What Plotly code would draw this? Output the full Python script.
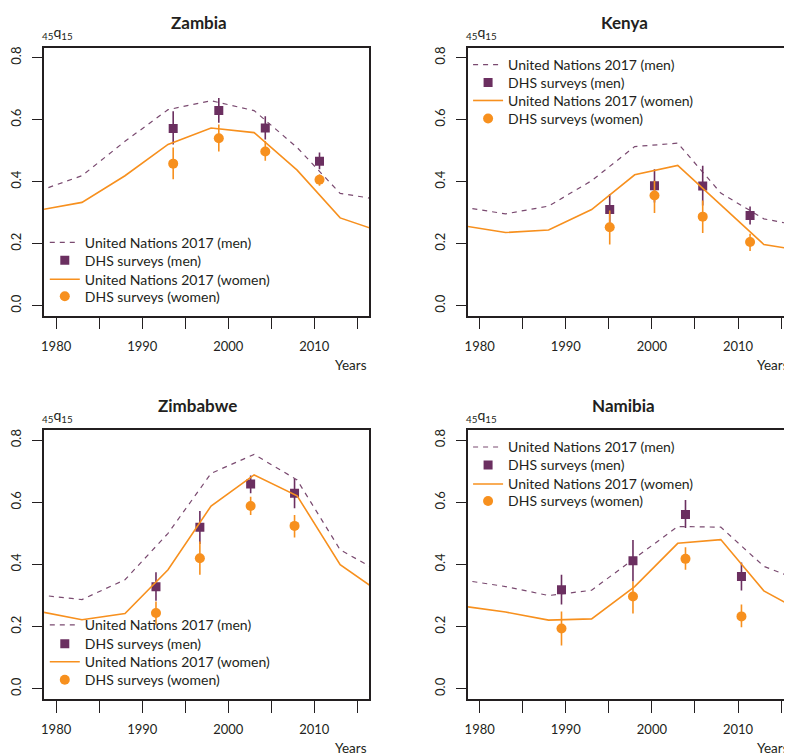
import plotly.graph_objects as go

# The page body has an 8px default margin; the figure is sized and placed so
# that the 792x756 viewport shows it exactly like the reference.
VIEW_W, VIEW_H = 792, 756
OFF = 8
W, H = VIEW_W - OFF, VIEW_H - OFF

# ---------------- data ----------------
un_years = [1978, 1983, 1988, 1993, 1998, 2003, 2008, 2013, 2018]

countries = ["Zambia", "Kenya", "Zimbabwe", "Namibia"]

un_men = {
    "Zambia":   [0.370, 0.419, 0.530, 0.632, 0.661, 0.629, 0.510, 0.362, 0.340],
    "Kenya":    [0.318, 0.296, 0.321, 0.403, 0.513, 0.524, 0.363, 0.280, 0.253],
    "Zimbabwe": [0.302, 0.287, 0.351, 0.500, 0.693, 0.754, 0.672, 0.447, 0.370],
    "Namibia":  [0.350, 0.329, 0.300, 0.317, 0.420, 0.522, 0.520, 0.394, 0.340],
}
un_women = {
    "Zambia":   [0.308, 0.333, 0.419, 0.520, 0.573, 0.558, 0.437, 0.283, 0.236],
    "Kenya":    [0.258, 0.236, 0.244, 0.310, 0.422, 0.452, 0.325, 0.197, 0.175],
    "Zimbabwe": [0.249, 0.222, 0.242, 0.383, 0.588, 0.688, 0.621, 0.399, 0.303],
    "Namibia":  [0.266, 0.247, 0.221, 0.225, 0.329, 0.468, 0.480, 0.315, 0.240],
}

dhs_years = {
    "Zambia":   [1993.6, 1998.9, 2004.3, 2010.6],
    "Kenya":    [1995.1, 2000.3, 2005.9, 2011.4],
    "Zimbabwe": [1991.6, 1996.7, 2002.6, 2007.7],
    "Namibia":  [1989.5, 1997.8, 2003.9, 2010.4],
}
dhs_men = {
    "Zambia":   [0.571, 0.629, 0.573, 0.466],
    "Kenya":    [0.310, 0.387, 0.386, 0.291],
    "Zimbabwe": [0.328, 0.520, 0.659, 0.629],
    "Namibia":  [0.319, 0.412, 0.561, 0.361],
}
dhs_men_lo = {
    "Zambia":   [0.520, 0.590, 0.536, 0.440],
    "Kenya":    [0.264, 0.333, 0.323, 0.262],
    "Zimbabwe": [0.283, 0.466, 0.629, 0.581],
    "Namibia":  [0.271, 0.345, 0.517, 0.316],
}
dhs_men_hi = {
    "Zambia":   [0.627, 0.670, 0.611, 0.494],
    "Kenya":    [0.360, 0.440, 0.451, 0.320],
    "Zimbabwe": [0.375, 0.572, 0.686, 0.675],
    "Namibia":  [0.367, 0.479, 0.607, 0.406],
}
dhs_women = {
    "Zambia":   [0.458, 0.540, 0.497, 0.406],
    "Kenya":    [0.253, 0.355, 0.287, 0.205],
    "Zimbabwe": [0.244, 0.420, 0.588, 0.524],
    "Namibia":  [0.194, 0.297, 0.418, 0.233],
}
dhs_women_lo = {
    "Zambia":   [0.408, 0.497, 0.467, 0.387],
    "Kenya":    [0.197, 0.299, 0.234, 0.176],
    "Zimbabwe": [0.206, 0.367, 0.559, 0.487],
    "Namibia":  [0.139, 0.242, 0.383, 0.198],
}
dhs_women_hi = {
    "Zambia":   [0.510, 0.584, 0.531, 0.424],
    "Kenya":    [0.307, 0.403, 0.339, 0.232],
    "Zimbabwe": [0.281, 0.474, 0.618, 0.559],
    "Namibia":  [0.249, 0.345, 0.455, 0.271],
}

x_tickvals = [1980, 1990, 2000, 2010]
x_ticktext = ["1980", "1990", "2000", "2010"]
x_minor_tickvals = [1985, 1995, 2005, 2015]
y_tickvals = [0.0, 0.2, 0.4, 0.6, 0.8]
y_ticktext = ["0.0", "0.2", "0.4", "0.6", "0.8"]

legend_labels = ["United Nations 2017 (men)", "DHS surveys (men)",
                 "United Nations 2017 (women)", "DHS surveys (women)"]

# ---------------- style ----------------
FONT = "Lato, Open Sans, sans-serif"
TXT = "#231f20"
PURPLE = "#6b2f60"
PURPLE_LINE = "#7a4a70"
ORANGE = "#f7901e"


def px(xp):
    return (xp - OFF) / W


def py(yp):
    return 1 - (yp - OFF) / H


# panel boxes in viewport pixels: (left, right, top, bottom)
boxes = {
    "Zambia":   (39.3, 366.7, 46.7, 315.0),
    "Kenya":    (466.0, 792.0, 46.7, 315.0),
    "Zimbabwe": (39.3, 366.7, 429.7, 698.7),
    "Namibia":  (466.0, 792.0, 429.7, 698.7),
}
xranges = {
    "Zambia": [1978.6, 2016.4], "Zimbabwe": [1978.6, 2016.4],
    "Kenya": [1978.65, 2016.27], "Namibia": [1978.65, 2016.27],
}
legend_left = {"Zambia": 40, "Kenya": 466, "Zimbabwe": 40, "Namibia": 466}
legend_rows = {
    "Zambia": [242, 260, 279, 296],
    "Kenya": [64, 82, 100, 118],
    "Zimbabwe": [625, 644, 662, 680],
    "Namibia": [447, 465, 484, 501],
}
title_cx = {"Zambia": 195, "Kenya": 623, "Zimbabwe": 194, "Namibia": 622}

fig = go.Figure()
layout = {}
annotations = []
leg_i = 0

for i, c in enumerate(countries):
    n = "" if i == 0 else str(i + 1)
    xa, ya = "x" + n, "y" + n
    L, R, T, B = boxes[c]
    right_panel = c in ("Kenya", "Namibia")

    legs = []
    for k in range(4):
        leg_i += 1
        name = "legend" if leg_i == 1 else "legend%d" % leg_i
        legs.append(name)
        layout[name] = dict(
            x=px(legend_left[c]), y=py(legend_rows[c][k]),
            xanchor="left", yanchor="middle", xref="paper", yref="paper",
            bgcolor="rgba(0,0,0,0)", borderwidth=0,
            font=dict(family=FONT, size=14, color=TXT),
            itemwidth=30, tracegroupgap=0,
        )

    fig.add_trace(go.Scatter(
        x=un_years, y=un_men[c], mode="lines", name=legend_labels[0],
        line=dict(color=PURPLE_LINE, width=1.2, dash="5px,5px"),
        xaxis=xa, yaxis=ya, legend=legs[0]))
    fig.add_trace(go.Scatter(
        x=dhs_years[c], y=dhs_men[c], mode="markers", name=legend_labels[1],
        marker=dict(symbol="square", size=9, color=PURPLE),
        error_y=dict(type="data", symmetric=False,
                     array=[h - v for h, v in zip(dhs_men_hi[c], dhs_men[c])],
                     arrayminus=[v - l for l, v in zip(dhs_men_lo[c], dhs_men[c])],
                     color=PURPLE, thickness=1.6, width=0),
        xaxis=xa, yaxis=ya, legend=legs[1]))
    fig.add_trace(go.Scatter(
        x=un_years, y=un_women[c], mode="lines", name=legend_labels[2],
        line=dict(color=ORANGE, width=1.6),
        xaxis=xa, yaxis=ya, legend=legs[2]))
    fig.add_trace(go.Scatter(
        x=dhs_years[c], y=dhs_women[c], mode="markers", name=legend_labels[3],
        marker=dict(symbol="circle", size=10, color=ORANGE),
        error_y=dict(type="data", symmetric=False,
                     array=[h - v for h, v in zip(dhs_women_hi[c], dhs_women[c])],
                     arrayminus=[v - l for l, v in zip(dhs_women_lo[c], dhs_women[c])],
                     color=ORANGE, thickness=1.6, width=0),
        xaxis=xa, yaxis=ya, legend=legs[3]))

    layout["xaxis" + n] = dict(
        domain=[px(L), min(1.0, px(R))], range=xranges[c], anchor=ya,
        tickmode="array", tickvals=x_tickvals, ticktext=x_ticktext,
        ticks="outside", ticklen=12, tickwidth=1.3, tickcolor=TXT,
        minor=dict(tickmode="array", tickvals=x_minor_tickvals,
                   ticks="outside", ticklen=12, tickwidth=1.3,
                   tickcolor=TXT, showgrid=False),
        showline=True, linecolor=TXT, linewidth=1.6, mirror=True,
        showgrid=False, zeroline=False,
        tickfont=dict(family=FONT, size=13, color=TXT),
        ticklabelstandoff=6,
    )
    layout["yaxis" + n] = dict(
        domain=[py(B), py(T)], range=[-0.032, 0.832], anchor=xa,
        tickvals=y_tickvals, ticktext=y_ticktext, tickangle=-90,
        ticks="outside", ticklen=10, tickwidth=1.3, tickcolor=TXT,
        showline=True, linecolor=TXT, linewidth=1.6, mirror=not right_panel,
        showgrid=False, zeroline=False,
        tickfont=dict(family=FONT, size=13, color=TXT),
        ticklabelstandoff=6,
    )

    # title
    annotations.append(dict(
        text="<b>%s</b>" % c, x=px(title_cx[c]), y=py(T - 25),
        xref="paper", yref="paper", xanchor="center", yanchor="middle",
        showarrow=False, font=dict(family=FONT, size=17, color=TXT)))
    # y label 45q15
    annotations.append(dict(
        text="<sub>45</sub>q<sub>15</sub>", x=px(L - 4), y=py(T - 15),
        xref="paper", yref="paper", xanchor="left", yanchor="middle",
        showarrow=False, font=dict(family=FONT, size=14, color=TXT)))
    # x label Years
    annotations.append(dict(
        text="Years", x=px(min(R - 0.5, 791)), y=py(B + 49),
        xref="paper", yref="paper", xanchor="right", yanchor="middle",
        showarrow=False, font=dict(family=FONT, size=13.5, color=TXT)))

fig.update_layout(
    width=W, height=H, margin=dict(l=0, r=0, t=0, b=0),
    paper_bgcolor="white", plot_bgcolor="white",
    showlegend=True, annotations=annotations,
    font=dict(family=FONT, size=13, color=TXT),
    **layout,
)

fig.write_html("out.html")
